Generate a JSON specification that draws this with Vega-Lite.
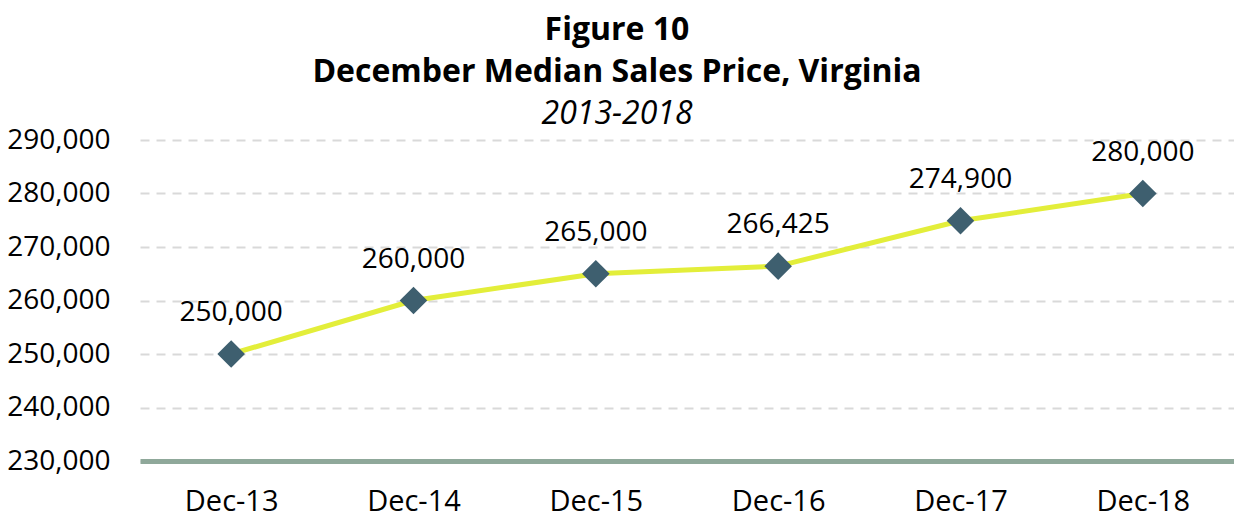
{
  "$schema": "https://vega.github.io/schema/vega-lite/v6.json",
  "autosize": "none",
  "width": 1094,
  "height": 321,
  "padding": {"left": 140, "top": 140, "right": 0, "bottom": 55},
  "background": "white",
  "config": {
    "font": "Open Sans",
    "view": {"stroke": null}
  },
  "title": {
    "text": ["Figure 10", "December Median Sales Price, Virginia"],
    "subtitle": "2013-2018",
    "anchor": "middle",
    "dx": -70,
    "font": "Open Sans",
    "fontSize": 32,
    "fontWeight": "bold",
    "color": "#000000",
    "lineHeight": 42,
    "subtitleFont": "Open Sans",
    "subtitleFontSize": 32,
    "subtitleFontStyle": "italic",
    "subtitleColor": "#000000",
    "subtitlePadding": 10,
    "offset": -5
  },
  "data": {
    "values": [
      {"month": "Dec-13", "price": 250000},
      {"month": "Dec-14", "price": 260000},
      {"month": "Dec-15", "price": 265000},
      {"month": "Dec-16", "price": 266425},
      {"month": "Dec-17", "price": 274900},
      {"month": "Dec-18", "price": 280000}
    ]
  },
  "encoding": {
    "x": {
      "field": "month",
      "type": "nominal",
      "sort": null,
      "scale": {"paddingInner": 0, "paddingOuter": 0},
      "axis": {
        "title": null,
        "labelAngle": 0,
        "labelFont": "Open Sans",
        "labelFontSize": 29,
        "labelColor": "#000000",
        "labelBaseline": "alphabetic",
        "labelPadding": 49,
        "ticks": false,
        "domainColor": "#8FA89A",
        "domainWidth": 5,
        "grid": false
      }
    },
    "y": {
      "field": "price",
      "type": "quantitative",
      "scale": {"domain": [230000, 290000], "nice": false, "zero": false},
      "axis": {
        "title": null,
        "values": [230000, 240000, 250000, 260000, 270000, 280000, 290000],
        "format": ",d",
        "labelFont": "Open Sans",
        "labelFontSize": 28,
        "labelColor": "#000000",
        "labelPadding": 30,
        "ticks": false,
        "domain": false,
        "grid": true,
        "gridColor": "#D9D9D9",
        "gridWidth": 2,
        "gridDash": [9, 7]
      }
    }
  },
  "layer": [
    {
      "mark": {"type": "line", "color": "#E3EE3A", "strokeWidth": 5}
    },
    {
      "mark": {"type": "point", "shape": "diamond", "filled": true, "color": "#3E5F6F", "size": 760, "opacity": 1}
    },
    {
      "mark": {"type": "text", "font": "Open Sans", "fontSize": 28, "color": "#000000", "dy": -33, "baseline": "alphabetic"},
      "encoding": {"text": {"field": "price", "type": "quantitative", "format": ",d"}}
    }
  ]
}
